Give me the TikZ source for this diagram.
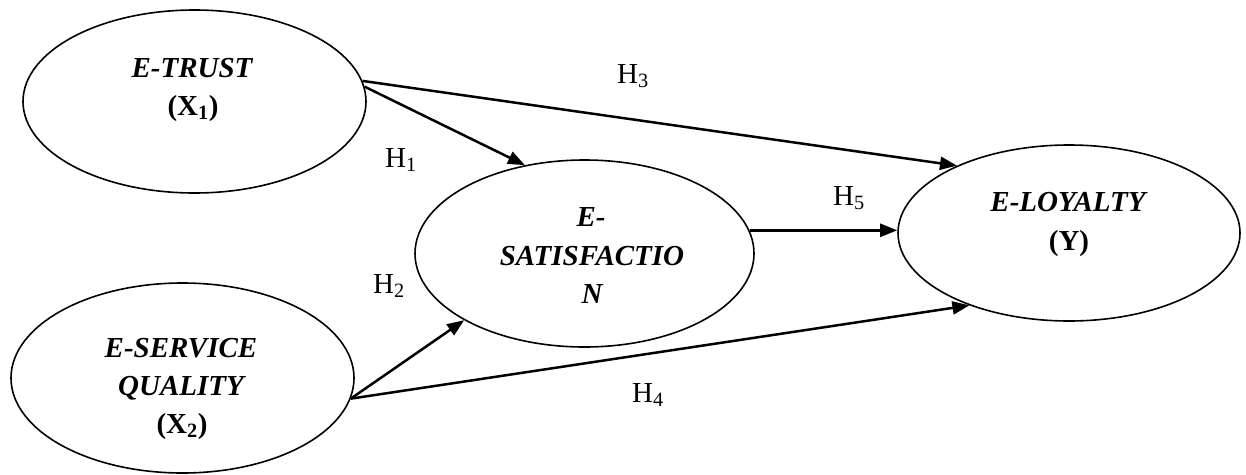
\documentclass[tikz,border=0pt]{standalone}
\usepackage{fontspec}
\setmainfont{Liberation Serif}
\usetikzlibrary{arrows.meta,shapes.geometric}
\begin{document}
\begin{tikzpicture}[x=1pt,y=-1pt,
  latent/.style={draw, ellipse, line width=1.6pt, inner sep=0pt},
  vtext/.style={font=\fontsize{29}{38}\selectfont\bfseries\itshape, anchor=base, inner sep=0pt},
  vsub/.style={font=\fontsize{29}{38}\selectfont\bfseries, anchor=base, inner sep=0pt},
  hyp/.style={font=\fontsize{29}{34}\selectfont, anchor=base west, inner sep=0pt},
  arr/.style={line width=2.5pt, -{Triangle[length=17pt,width=13pt]}}]
\useasboundingbox (0,0) rectangle (1246,474);
% ellipses
\node[latent, minimum width=343pt, minimum height=183pt] (trust) at (194.5,101.5) {};
\node[latent, minimum width=343pt, minimum height=190pt] (service) at (182.5,378) {};
\node[latent, minimum width=339pt, minimum height=187pt] (sat) at (584.5,253.5) {};
\node[latent, minimum width=342pt, minimum height=176pt] (loyalty) at (1069,233) {};
% texts
\node[vtext] (t1) at (192,77) {E-TRUST};
\node[vsub] (t2) at (193,115) {(X\textsubscript{1})};
\node[vtext] (s1) at (181,357) {E-SERVICE};
\node[vtext] (s2) at (181,395) {QUALITY};
\node[vsub] (s3) at (182,433) {(X\textsubscript{2})};
\node[vtext] (m1) at (591,226) {E-};
\node[vtext] (m2) at (592,265) {SATISFACTIO};
\node[vtext] (m3) at (592,303) {N};
\node[vtext] (l1) at (1068,211) {E-LOYALTY};
\node[vsub] (l2) at (1069,250) {(Y)};
% hypothesis labels
\node[hyp] (h3) at (617,83) {H\textsubscript{3}};
\node[hyp] (h1) at (385,167) {H\textsubscript{1}};
\node[hyp] (h2) at (373,293) {H\textsubscript{2}};
\node[hyp] (h4) at (632,402) {H\textsubscript{4}};
\node[hyp] (h5) at (833,205) {H\textsubscript{5}};
% arrows
\draw[arr] (trust.7) -- (loyalty.149);
\draw[arr] (trust.5) -- (sat.124);
\draw[arr] (sat.8) -- (sat.8 -| loyalty.west);
\draw[arr] (service.-7) -- (sat.209);
\draw[arr] (service.-7) -- (loyalty.216);
\end{tikzpicture}
\end{document}
